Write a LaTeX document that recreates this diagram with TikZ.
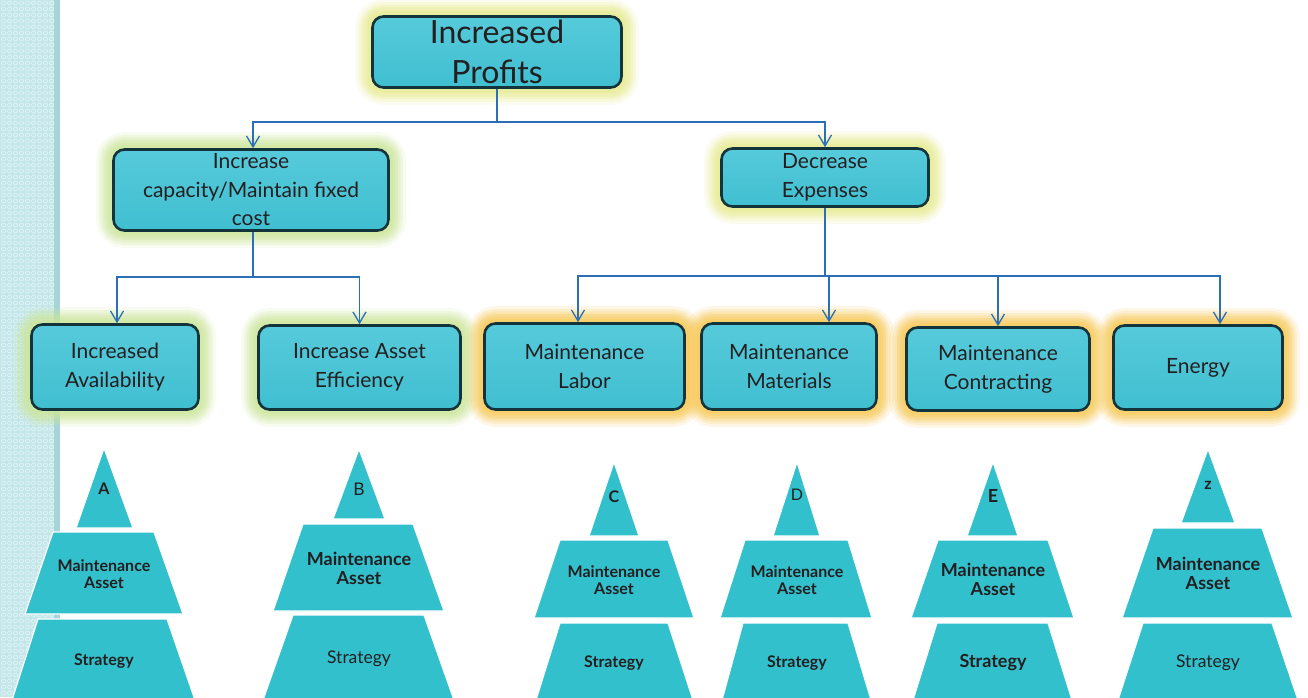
\documentclass[tikz,border=0pt]{standalone}
\usepackage{fontspec}
\setmainfont{Lato}
\usetikzlibrary{arrows.meta}

\definecolor{stripbg}{HTML}{C2E6EA}
\definecolor{stripedge}{HTML}{A6D4D9}
\definecolor{boxtop}{HTML}{56CADA}
\definecolor{boxbot}{HTML}{40BFD1}
\definecolor{boxline}{HTML}{14343C}
\definecolor{ink}{HTML}{231F20}
\definecolor{link}{HTML}{2B6FB6}
\definecolor{pyr}{HTML}{32C0CC}
\definecolor{haloY}{HTML}{E8EC92}
\definecolor{haloG}{HTML}{CCE69A}
\definecolor{haloO}{HTML}{F8CA58}

\pgfdeclarelayer{strip}
\pgfdeclarelayer{halo}
\pgfsetlayers{strip,halo,main}

\tikzset{
  box/.style={rectangle, rounded corners=11pt, draw=boxline, line width=2.6pt,
    top color=boxtop, bottom color=boxbot, text=ink, align=center, inner sep=0pt,
    font=\fontsize{21}{28.5}\selectfont},
  halo/.style={rounded corners=12pt, draw=#1, draw opacity=0.4, line width=6pt,
    preaction={draw=#1, draw opacity=0.35, line width=11pt},
    preaction={draw=#1, draw opacity=0.3, line width=16pt},
    preaction={draw=#1, draw opacity=0.25, line width=21pt},
    preaction={draw=#1, draw opacity=0.2, line width=26pt},
    preaction={draw=#1, draw opacity=0.14, line width=32pt}},
  conn/.style={draw=link, line width=1.3pt},
  arr/.style={conn, -{Straight Barb[length=11pt,width=13pt]}},
  piece/.style={fill=pyr, draw=white, line width=1.2pt},
  plabel/.style={text=ink, align=center, inner sep=0pt},
  rb/.style={font=\bfseries\fontsize{16}{17}\selectfont},
  rr/.style={font=\fontsize{16}{17}\selectfont},
  bb/.style={font=\bfseries\fontsize{18}{19}\selectfont},
  br/.style={font=\fontsize{17.5}{19}\selectfont},
}

\begin{document}
\begin{tikzpicture}[x=1pt,y=-1pt]
\useasboundingbox (0,0) rectangle (1308,697);

% patterned side strip
\begin{pgfonlayer}{strip}
  \fill[white] (0,0) rectangle (1308,697);
  \fill[stripbg] (0,0) rectangle (60,697);
  \fill[stripedge] (54,0) rectangle (60,697);
  \foreach \i in {0,...,8}
    \foreach \j in {0,...,115}
      \draw[white, draw opacity=0.5, line width=0.8pt] (3.5+\i*6, 3+\j*6) circle (2pt);
\end{pgfonlayer}

% boxes
\node[box, minimum width=249pt, minimum height=71pt, font=\fontsize{32}{40}\selectfont] (profit) at (497,52) {Increased\\Profits};
\node[box, minimum width=275pt, minimum height=81pt] (cap) at (251,190) {Increase\\capacity/Maintain fixed\\cost};
\node[box, minimum width=207pt, minimum height=58pt] (dec) at (825,177.5) {Decrease\\Expenses};
\node[box, minimum width=167pt, minimum height=85pt] (avail) at (115,367) {Increased\\Availability};
\node[box, minimum width=202pt, minimum height=84pt] (eff) at (359.5,367.5) {Increase Asset\\Efficiency};
\node[box, minimum width=200pt, minimum height=86pt] (labor) at (584.5,366.5) {Maintenance\\Labor};
\node[box, minimum width=175pt, minimum height=86pt] (mat) at (789,366.5) {Maintenance\\Materials};
\node[box, minimum width=183pt, minimum height=83pt] (con) at (998,369) {Maintenance\\Contracting};
\node[box, minimum width=169pt, minimum height=84pt] (energy) at (1198,367.5) {Energy};

% soft halos behind the boxes
\begin{pgfonlayer}{halo}
  \foreach \n/\c in {profit/haloY, cap/haloG, dec/haloY, avail/haloG, eff/haloG,
                     labor/haloO, mat/haloO, con/haloO, energy/haloO}
    \draw[halo=\c] (\n.south west) rectangle (\n.north east);
\end{pgfonlayer}

% connectors
\coordinate (p0) at (497,122);
\draw[conn] (profit.south) -- (p0);
\draw[arr] (p0) -| ([xshift=2pt]cap.north);
\draw[arr] (p0) -| (dec.north);

\coordinate (c0) at (253,277);
\draw[conn] ([xshift=2pt]cap.south) -- (c0);
\draw[arr] (c0) -| ([xshift=2pt]avail.north);
\draw[arr] (c0) -| (eff.north);

\coordinate (d0) at (825,276);
\draw[conn] (dec.south) -- (d0);
\draw[arr] (d0) -| ([xshift=-6.5pt]labor.north);
\draw[arr] (d0) -| ([xshift=40pt]mat.north);
\draw[arr] (d0) -| (con.north);
\draw[arr] (d0) -| ([xshift=22pt]energy.north);

% pyramid A
\path[piece] (104,448) -- (133,528) -- (76,528) -- cycle;
\path[piece] (53,532) -- (154,532) -- (183,614) -- (25,614) -- cycle;
\path[piece] (38,619) -- (167,619) -- (195,700) -- (12,700) -- cycle;
\node[plabel, rb] (pa1) at (104,489) {A};
\node[plabel, rb] (pa2) at (104,574) {Maintenance\\Asset};
\node[plabel, rb] (pa3) at (104,661) {Strategy};

% pyramid B
\path[piece] (359,449) -- (385,519) -- (333,519) -- cycle;
\path[piece] (303,524) -- (413,524) -- (444,611) -- (273,611) -- cycle;
\path[piece] (293,615) -- (424,615) -- (454,700) -- (263,700) -- cycle;
\node[plabel, br] (pb1) at (359,489) {B};
\node[plabel, bb] (pb2) at (359,568) {Maintenance\\Asset};
\node[plabel, br] (pb3) at (359,659) {Strategy};

% pyramid C
\path[piece] (614,462) -- (639,536) -- (589,536) -- cycle;
\path[piece] (560,540) -- (668,540) -- (694,618) -- (534,618) -- cycle;
\path[piece] (560,623) -- (668,623) -- (693,700) -- (536,700) -- cycle;
\node[plabel, rb] (pc1) at (614,497) {C};
\node[plabel, rb] (pc2) at (614,580) {Maintenance\\Asset};
\node[plabel, rb] (pc3) at (614,663) {Strategy};

% pyramid D
\path[piece] (797,462) -- (820,536) -- (773,536) -- cycle;
\path[piece] (745,540) -- (848,540) -- (872,618) -- (720,618) -- cycle;
\path[piece] (743,623) -- (848,623) -- (871,700) -- (722,700) -- cycle;
\node[plabel, rr] (pd1) at (797,495) {D};
\node[plabel, rb] (pd2) at (797,580) {Maintenance\\Asset};
\node[plabel, rb] (pd3) at (797,663) {Strategy};

% pyramid E
\path[piece] (993,462) -- (1018,536) -- (967,536) -- cycle;
\path[piece] (938,540) -- (1048,540) -- (1074,618) -- (911,618) -- cycle;
\path[piece] (937,623) -- (1048,623) -- (1072,700) -- (913,700) -- cycle;
\node[plabel, bb] (pe1) at (993,496) {E};
\node[plabel, bb] (pe2) at (993,579) {Maintenance\\Asset};
\node[plabel, bb] (pe3) at (993,663) {Strategy};

% pyramid z
\path[piece] (1208,449) -- (1235,523) -- (1181,523) -- cycle;
\path[piece] (1153,528) -- (1262,528) -- (1293,618) -- (1122,618) -- cycle;
\path[piece] (1143,623) -- (1272,623) -- (1298,700) -- (1118,700) -- cycle;
\node[plabel, rb] (pz1) at (1208,485) {z};
\node[plabel, bb] (pz2) at (1208,573) {Maintenance\\Asset};
\node[plabel, br] (pz3) at (1208,663) {Strategy};
\end{tikzpicture}
\end{document}
